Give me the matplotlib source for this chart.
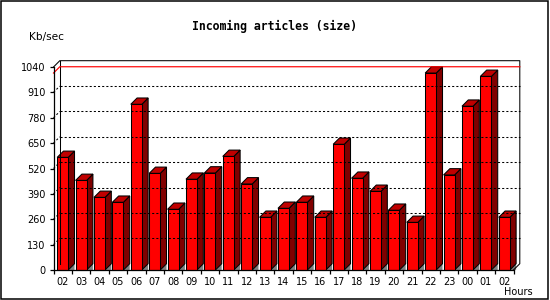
import matplotlib
matplotlib.use('Agg')
import matplotlib.pyplot as plt
from matplotlib.patches import Polygon, Rectangle

# データ
hours = ['02', '03', '04', '05', '06', '07', '08', '09', '10', '11', '12', '13',
         '14', '15', '16', '17', '18', '19', '20', '21', '22', '23', '00', '01', '02']
size_kb = [577, 459, 372, 347, 849, 495, 311, 465, 497, 582, 441, 270,
           316, 347, 270, 644, 470, 403, 306, 244, 1009, 487, 839, 992, 270]
y_ticks = [0, 130, 260, 390, 520, 650, 780, 910, 1040]

W, H = 550, 300
fig = plt.figure(figsize=(W / 100, H / 100), dpi=100)
fig.patch.set_facecolor('white')

# 手前の面 (pixel)
left, right, top, bottom = 53.5, 513.5, 67, 270
ax = fig.add_axes([left / W, 1 - bottom / H, (right - left) / W, (bottom - top) / H])
n = len(hours)
ymax = y_ticks[-1]
ax.set_xlim(0, n)
ax.set_ylim(0, ymax)
ax.patch.set_visible(False)
ax.spines['top'].set_visible(False)
ax.spines['right'].set_visible(False)
for s in ['left', 'bottom']:
    ax.spines[s].set_linewidth(0.9)

# 奥行き (6px) をデータ単位に
dx = 6.3 / ((right - left) / n)
dy = 6.3 / ((bottom - top) / ymax)
lw = 0.75

# 奥の壁
ax.plot([0, dx, n + dx, n + dx, n], [ymax, ymax + dy, ymax + dy, dy, 0],
        color='black', lw=lw, clip_on=False)
ax.plot([dx, dx], [dy, ymax + dy], color='black', lw=lw, clip_on=False)

# グリッド
for v in y_ticks[1:-1]:
    ax.plot([dx, n + dx], [v + dy, v + dy], color='black', lw=lw,
            linestyle=(0, (2, 2)), clip_on=False)
    ax.plot([0, dx], [v, v + dy], color='black', lw=lw,
            linestyle=(0, (2, 2)), clip_on=False)

# 最大値の線
vmax = max(size_kb)
ax.plot([0, dx, n + dx], [vmax, vmax + dy, vmax + dy], color='#ff0000',
        lw=0.85, clip_on=False)

# 棒グラフ (3D風)
bw = 0.6
for i, v in enumerate(size_kb):
    x0 = i + 0.2
    x1 = x0 + bw
    ax.add_patch(Polygon([(x1, 0), (x1 + dx, dy), (x1 + dx, 0)],
                         closed=True, fc='#808080', ec='none', clip_on=False))
    ax.add_patch(Polygon([(x1, 0), (x1 + dx, dy), (x1 + dx, v + dy), (x1, v)],
                         closed=True, fc='#800000', ec='black', lw=lw, clip_on=False))
    ax.add_patch(Polygon([(x0, v), (x0 + dx, v + dy), (x1 + dx, v + dy), (x1, v)],
                         closed=True, fc='#c00000', ec='black', lw=lw, clip_on=False))
    ax.add_patch(Rectangle((x0, 0), bw, v, fc='#ff0000', ec='black', lw=lw,
                           clip_on=False))

# 軸ラベル
ax.set_yticks(y_ticks)
ax.set_yticklabels([str(t) for t in y_ticks])
ax.set_xticks(range(n + 1))
ax.set_xticklabels([])
ax.set_xticks([i + 0.5 for i in range(n)], minor=True)
ax.set_xticklabels(hours, minor=True)
ax.tick_params(axis='y', length=3.2, width=0.9, pad=2.5, labelsize=7)
ax.tick_params(axis='x', which='major', length=3, width=0.9)
ax.tick_params(axis='x', which='minor', length=0, pad=5, labelsize=7)

fig.text(274 / W, 1 - 26.7 / H, 'Incoming articles (size)', ha='center', va='center',
         family='DejaVu Sans Mono', weight='bold', fontsize=8.3)
fig.text(29 / W, 1 - 36.7 / H, 'Kb/sec', ha='left', va='center', fontsize=7.6)
fig.text(533 / W, 1 - 292 / H, 'Hours', ha='right', va='center', fontsize=7)

# 枠
fig.add_artist(Rectangle((0.8 / W, 1 - 298.8 / H), 546.8 / W, 298.2 / H,
                         transform=fig.transFigure, fill=False, ec='black', lw=1.1,
                         joinstyle='miter'))

fig.savefig('out.png', dpi=100)
